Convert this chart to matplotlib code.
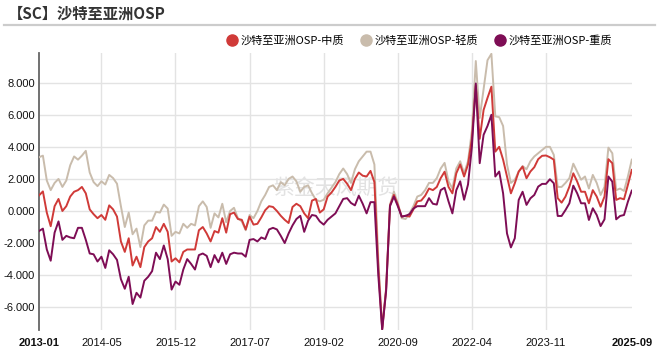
import numpy as np
import pandas as pd
import matplotlib
matplotlib.use('Agg')
import matplotlib.pyplot as plt
from matplotlib.lines import Line2D

plt.rcParams['font.family'] = ['Liberation Sans', 'Noto Sans CJK SC', 'DejaVu Sans']

# ---------------------------------------------------------------------------
# DATA  (monthly, 2013-01 .. 2025-09)
# ---------------------------------------------------------------------------
months = pd.date_range("2013-01-01", "2025-09-01", freq="MS")

light = [
    3.35, 3.45, 1.9, 1.3, 1.75, 2.0, 1.5, 1.9, 2.85, 3.4, 3.2, 3.45,
    3.75, 2.4, 1.8, 1.55, 1.85, 1.65, 2.25, 2.05, 1.7, 0.3, -1.0, -0.1,
    -1.45, -1.1, -2.25, -0.9, -0.6, -0.6, -0.05, -0.1, 0.4, 0.15, -1.55, -1.3,
    -1.4, -0.8, -1.05, -0.8, -0.9, 0.3, 0.6, 0.25, -1.05, -0.15, -0.4, 0.45,
    -0.7, 0.0, 0.2, -0.45, -0.65, -1.2, -0.25, -0.45, 0.0, 0.6, 1.0, 1.5,
    1.6, 1.3, 1.8, 1.6, 2.0, 2.15, 1.85, 1.2, 1.5, 1.6, 1.1, 0.7,
    0.6, 0.7, 1.1, 1.45, 1.8, 2.3, 2.65, 2.3, 1.75, 2.6, 3.1, 3.4,
    3.7, 3.7, 2.9, -3.0, -7.3, -4.8, 0.4, 1.2, 0.5, -0.45, -0.5, -0.15,
    0.3, 0.9, 1.0, 1.3, 1.75, 1.75, 2.05, 2.65, 3.0, 1.85, 1.4, 2.65,
    3.1, 2.35, 3.1, 5.0, 9.35, 5.8, 7.6, 9.4, 9.8, 5.9, 5.85, 5.3,
    2.9, 1.75, 1.95, 2.45, 2.8, 2.6, 3.1, 3.4, 3.6, 3.8, 4.0, 4.0,
    3.5, 1.5, 1.5, 1.75, 2.05, 2.95, 2.45, 1.95, 2.15, 1.4, 2.25, 1.75,
    1.0, 1.5, 3.95, 3.6, 1.3, 1.4, 1.25, 2.15, 3.2,
]

medium = [
    0.97, 1.22, -0.1, -0.95, 0.3, 0.75, 0.0, 0.3, 0.9, 1.2, 1.3, 1.5,
    1.1, 0.1, -0.2, -0.45, -0.25, -0.55, 0.35, 0.1, -0.35, -1.9, -2.55, -1.7,
    -3.4, -2.85, -3.5, -2.25, -1.9, -1.7, -1.0, -1.3, -0.8, -1.3, -3.15, -2.95,
    -3.2, -2.55, -2.4, -2.4, -2.4, -1.2, -1.0, -1.4, -1.9, -1.25, -1.35, -0.45,
    -1.35, -0.2, -0.1, -0.5, -0.55, -1.15, -0.35, -0.85, -0.8, -0.4, 0.05, 0.3,
    0.25, 0.0, -0.3, -0.55, -0.75, 0.25, 0.45, 0.3, -0.15, -0.45, 0.65, 0.75,
    -0.1, 0.1, 0.9, 1.15, 1.5, 1.9, 2.0, 1.7, 1.3, 2.0, 2.4, 2.2,
    2.15, 2.5, 1.8, -3.5, -7.35, -4.9, 0.35, 1.0, 0.4, -0.35, -0.3, -0.35,
    0.1, 0.6, 0.65, 0.95, 1.4, 1.3, 1.5, 2.05, 2.45, 1.5, 1.1, 2.35,
    2.9, 2.15, 2.9, 4.5, 7.8, 4.5, 6.3, 7.05, 7.75, 3.7, 4.0, 3.2,
    2.15, 1.1, 1.73, 2.46, 2.77, 2.04, 2.46, 2.73, 3.23, 3.44, 3.46, 3.35,
    3.2, 0.8, 0.52, 0.9, 1.52, 2.35, 1.83, 1.2, 1.2, 0.48, 1.3, 0.9,
    0.27, 0.9, 3.23, 2.98, 0.69, 0.8, 0.73, 1.63, 2.56,
]

heavy = [
    -1.25, -1.1, -2.4, -3.1, -1.35, -0.65, -1.8, -1.55, -1.65, -1.7, -1.05, -1.05,
    -1.8, -2.65, -2.7, -3.15, -2.85, -3.55, -2.45, -2.7, -3.05, -4.25, -4.85, -4.1,
    -5.8, -5.1, -5.4, -4.35, -4.1, -3.75, -2.6, -3.0, -2.15, -3.0, -4.9, -4.4,
    -4.6, -3.65, -3.0, -3.3, -3.65, -2.75, -2.65, -2.8, -3.5, -2.75, -3.2, -2.6,
    -3.3, -2.7, -2.6, -2.65, -2.65, -2.85, -1.8, -1.75, -1.9, -1.65, -1.75, -1.15,
    -1.05, -1.15, -1.55, -2.0, -1.4, -0.9, -0.5, -0.3, -1.3, -0.6, -0.25, -0.3,
    -0.65, -0.85, -0.55, -0.35, -0.15, 0.3, 0.75, 0.8, 0.5, 0.35, 0.95, 0.45,
    -0.15, 0.55, 0.55, -4.0, -7.4, -5.0, 0.3, 0.9, 0.3, -0.35, -0.3, -0.2,
    0.15, 0.3, 0.3, 0.3, 0.8, 0.45, 0.4, 1.3, 1.45, 0.6, -0.15, 1.3,
    1.85, 0.7, 1.65, 4.0, 7.95, 2.98, 4.75, 5.3, 6.0, 2.15, 2.46, 1.1,
    -1.4, -2.27, -1.7, 0.69, 1.2, 0.38, 0.79, 1.0, 1.52, 1.69, 1.69, 1.98,
    1.73, -0.31, -0.31, 0.06, 0.48, 1.58, 1.1, 0.48, 0.48, -0.56, 0.17, -0.25,
    -0.94, -0.52, 2.15, 1.83, -0.52, -0.31, -0.25, 0.58, 1.27,
]

tick_idx = [0, 16, 35, 54, 73, 92, 111, 130, 152]
tick_labels = [months[i].strftime("%Y-%m") for i in tick_idx]
y_ticks = [-6, -4, -2, 0, 2, 4, 6, 8]

# ---------------------------------------------------------------------------
# COLORS
# ---------------------------------------------------------------------------
C_MED = "#D03A38"
C_LIGHT = "#C9BCAC"
C_HEAVY = "#7E0D55"
GRID = "#E3E3E3"

fig = plt.figure(figsize=(6.59, 3.54), dpi=100, facecolor="white")
ax = fig.add_axes([39 / 659, 1 - 330 / 354, 592.8 / 659, 277 / 354])

x = np.arange(len(months))
ax.plot(x, light, color=C_LIGHT, lw=1.4, zorder=3)
ax.plot(x, medium, color=C_MED, lw=1.4, zorder=4)
ax.plot(x, heavy, color=C_HEAVY, lw=1.4, zorder=5)

ax.set_xlim(0, len(months) - 1)
ax.set_ylim(-7.42, 9.85)
ax.set_yticks(y_ticks)
ax.set_yticklabels([f"{v:.3f}" for v in y_ticks])
ax.set_xticks(tick_idx)
ax.set_xticklabels(tick_labels)
for i, lab in enumerate(ax.get_xticklabels()):
    if i in (0, len(tick_idx) - 1):
        lab.set_fontweight("bold")
ax.tick_params(axis="both", length=0, labelsize=8, colors="#111111")
ax.tick_params(axis="y", pad=3)
ax.tick_params(axis="x", pad=6)

ax.grid(axis="y", color=GRID, lw=1.0)
for i in tick_idx[1:-1]:
    ax.axvline(i, color=GRID, lw=1.0, zorder=0)
for s in ["top", "right", "bottom"]:
    ax.spines[s].set_visible(False)
ax.spines["left"].set_color("#666666")
ax.spines["left"].set_linewidth(1.3)

# watermark
ax.text(0.5, 0.515, "紫金天风期货", transform=ax.transAxes, ha="center", va="center",
        fontsize=15, color="#E2E2E2", family=["Noto Sans CJK SC"], zorder=1)

# title + separator
fig.text(8 / 659, 1 - 14 / 354, "【SC】沙特至亚洲OSP", fontsize=11, fontweight="bold",
         color="#333333", va="center", ha="left", family=["Noto Sans CJK SC"])
fig.add_artist(Line2D([4 / 659, 655 / 659], [1 - 25 / 354, 1 - 25 / 354],
                      color="#CCCCCC", lw=1.6))

handles = [
    Line2D([], [], color=C_MED, marker="o", ls="", ms=8),
    Line2D([], [], color=C_LIGHT, marker="o", ls="", ms=8),
    Line2D([], [], color=C_HEAVY, marker="o", ls="", ms=8),
]
labels = ["沙特至亚洲OSP-中质", "沙特至亚洲OSP-轻质", "沙特至亚洲OSP-重质"]
leg = fig.legend(handles, labels, loc="center", bbox_to_anchor=(420 / 659, 1 - 40 / 354),
                 ncol=3, frameon=False, handlelength=0.8,
                 handletextpad=0.35, columnspacing=1.6,
                 prop={"family": ["Noto Sans CJK SC"], "size": 8})

fig.savefig("out.png", dpi=100, facecolor="white")
